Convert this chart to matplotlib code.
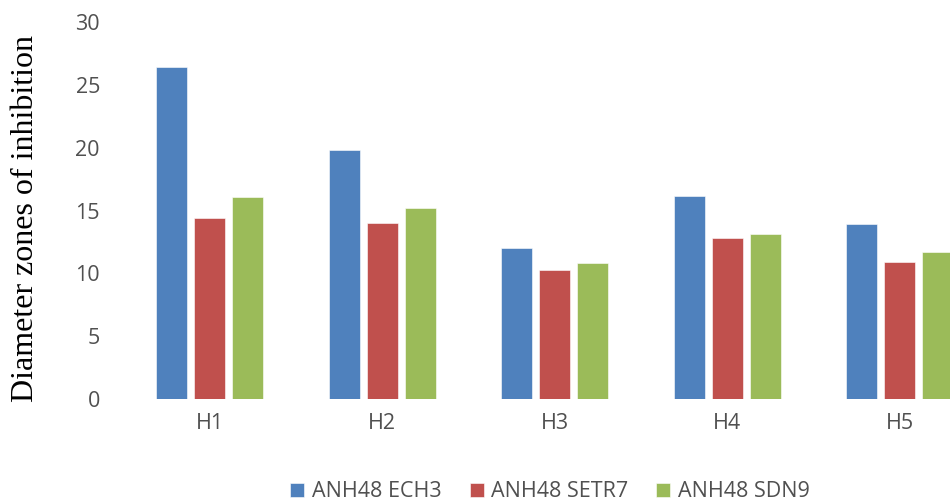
import matplotlib.pyplot as plt
import numpy as np

categories = ['H1', 'H2', 'H3', 'H4', 'H5']
series = ['ANH48 ECH3', 'ANH48 SETR7', 'ANH48 SDN9']
ech3 = [26.4, 19.8, 12.0, 16.2, 13.9]
setr7 = [14.4, 14.0, 10.3, 12.8, 10.9]
sdn9 = [16.1, 15.2, 10.8, 13.1, 11.7]
colors = ['#4F81BD', '#C0504D', '#9BBB59']

plt.rcParams['font.family'] = ['Open Sans', 'DejaVu Sans']

fig = plt.figure(figsize=(9.5, 5.03), dpi=100)
# plot area runs past the right edge, so the last group is cut off
ax = fig.add_axes([0.13, 0.2068, 0.908, 0.749])

x = np.arange(len(categories))
width = 0.179
step = 0.22
for i, (vals, name) in enumerate(zip([ech3, setr7, sdn9], series)):
    ax.bar(x + (i - 1) * step, vals, width, color=colors[i], label=name,
           edgecolor='white', linewidth=0.4)

ax.set_xlim(-0.5, 4.5)
ax.set_ylim(0, 30)
ax.set_yticks(range(0, 31, 5))
ax.set_xticks(x)
ax.set_xticklabels(categories)
for s in ax.spines.values():
    s.set_visible(False)
ax.tick_params(axis='both', length=0, labelsize=15.5, labelcolor='#505050')
ax.tick_params(axis='y', pad=17)
ax.tick_params(axis='x', pad=10)

fig.text(0.027, 0.565, 'Diameter zones of inhibition', rotation=90,
         ha='center', va='center', fontsize=23, family='Liberation Serif')

fig.legend(loc='center', bbox_to_anchor=(0.579, 0.022), ncol=3, frameon=False,
           fontsize=15.5, handlelength=0.65, handleheight=0.65, handletextpad=0.35,
           columnspacing=1.3, labelcolor='#505050')

fig.savefig('out.png', dpi=100)
